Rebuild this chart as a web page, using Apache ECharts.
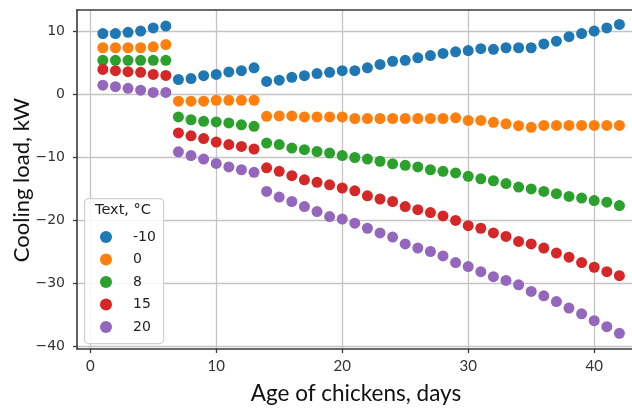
<!DOCTYPE html>
<html><head><meta charset="utf-8">
<script src="https://cdn.jsdelivr.net/npm/echarts@6/dist/echarts.min.js"></script>
<style>html,body{margin:0;padding:0;background:#fff}#c{width:632px;height:408px}</style>
</head><body><div id="c"></div>
<script>
const days = Array.from({length: 42}, (_, i) => i + 1);
const seriesNames = ['-10', '0', '8', '15', '20'];
const xTicks = [0, 10, 20, 30, 40];
const yTicks = [-40, -30, -20, -10, 0, 10];
const tMinus10 = [9.7, 9.7, 9.9, 10.1, 10.6, 10.9,
  2.4, 2.55, 3.0, 3.2, 3.6, 3.8, 4.25,
  2.1, 2.3, 2.75, 3.0, 3.35, 3.55, 3.8, 3.8, 4.25, 4.8, 5.3, 5.45, 5.85, 6.2, 6.55,
  6.8, 7.0, 7.3, 7.2, 7.45, 7.45, 7.45, 8.05, 8.5, 9.2, 9.7, 10.1, 10.6, 11.15];
const t0 = [7.45, 7.45, 7.45, 7.45, 7.6, 7.95,
  -1.05, -1.05, -1.05, -0.9, -0.9, -0.9, -0.9,
  -3.45, -3.4, -3.4, -3.55, -3.55, -3.55, -3.55, -3.8, -3.8, -3.8, -3.8, -3.8, -3.8, -3.8, -3.8,
  -3.7, -4.1, -4.1, -4.4, -4.65, -4.95, -5.2, -4.9, -4.9, -4.9, -4.9, -4.9, -4.9, -4.9];
const t8 = [5.45, 5.45, 5.45, 5.45, 5.45, 5.45,
  -3.55, -4.0, -4.25, -4.35, -4.5, -4.8, -5.05,
  -7.7, -7.95, -8.5, -8.75, -9.05, -9.3, -9.7, -10.0, -10.25, -10.6, -11.0, -11.25, -11.5, -11.95, -12.2,
  -12.45, -13.0, -13.4, -13.7, -14.15, -14.7, -15.0, -15.4, -15.75, -16.2, -16.45, -16.85, -17.1, -17.65];
const t15 = [4.0, 3.8, 3.65, 3.55, 3.2, 3.05,
  -6.1, -6.55, -7.0, -7.55, -7.95, -8.25, -8.65,
  -11.65, -12.2, -12.9, -13.55, -13.95, -14.35, -14.85, -15.3, -16.1, -16.6, -17.0, -17.8, -18.3, -18.75, -19.3,
  -20.0, -20.85, -21.25, -22.0, -22.55, -23.35, -23.75, -24.4, -25.2, -25.85, -26.7, -27.45, -28.15, -28.8];
const t20 = [1.5, 1.25, 1.0, 0.7, 0.35, 0.35,
  -9.1, -9.7, -10.25, -10.95, -11.5, -11.95, -12.35,
  -15.4, -16.3, -17.0, -17.8, -18.6, -19.4, -19.8, -20.45, -21.25, -22.0, -22.65, -23.75, -24.4, -24.95, -25.65,
  -26.7, -27.35, -28.15, -28.95, -29.55, -30.25, -31.3, -32.0, -32.9, -33.95, -34.85, -35.95, -36.9, -37.95];
const allValues = [tMinus10, t0, t8, t15, t20];
const colors = ['#1f77b4', '#ff7f0e', '#2ca02c', '#d62728', '#9467bd'];

const chart = echarts.init(document.getElementById('c'), null, {renderer: 'canvas'});
const series = seriesNames.map((n, i) => ({
  name: n, type: 'scatter', symbol: 'circle', symbolSize: 11,
  itemStyle: {color: colors[i], opacity: 1},
  data: days.map((d, j) => [d, allValues[i][j]]),
  z: 2
}));
const spine = {color: '#3a3a3a', width: 1.6};
chart.setOption({
  animation: false,
  grid: {left: 77, right: 0, top: 10, bottom: 59},
  xAxis: [{
    type: 'value', min: -1.05, max: 43.0,
    axisLine: {show: true, onZero: false, lineStyle: spine},
    axisTick: {show: true, length: 4, lineStyle: {color: '#3a3a3a', width: 1.3}, customValues: xTicks},
    axisLabel: {customValues: xTicks, margin: 10, fontFamily: 'Lato', fontSize: 15, color: '#333'},
    splitLine: {show: true, lineStyle: {color: '#c4c4c4', width: 1.3}}
  }, {
    type: 'value', position: 'top', min: -1.05, max: 43.0,
    axisLine: {show: true, onZero: false, lineStyle: spine},
    axisTick: {show: false}, axisLabel: {show: false}, splitLine: {show: false}
  }],
  yAxis: {
    type: 'value', min: -40.45, max: 13.45,
    axisLine: {show: true, onZero: false, lineStyle: spine},
    axisTick: {show: true, length: 4, lineStyle: {color: '#3a3a3a', width: 1.3}, customValues: yTicks},
    axisLabel: {customValues: yTicks, margin: 12, fontFamily: 'DejaVu Sans', fontSize: 14, color: '#333',
      formatter: v => (v < 0 ? '\u2212' + Math.abs(v) : '' + v)},
    splitLine: {show: true, lineStyle: {color: '#c4c4c4', width: 1.3}}
  },
  legend: {
    data: seriesNames, orient: 'vertical', left: 95, top: 225, itemGap: 8.5,
    icon: 'circle', itemWidth: 12, itemHeight: 12,
    textStyle: {fontFamily: 'DejaVu Sans', fontSize: 14, color: '#222', padding: [0, 0, 0, 16]},
    z: 5
  },
  graphic: [
    {type: 'rect', left: 84, top: 198, z: 4, shape: {width: 79, height: 145, r: 4},
     style: {fill: 'rgba(255,255,255,0.85)', stroke: '#d0d0d0', lineWidth: 1.2}},
    {type: 'text', left: 95, top: 203, z: 5,
     style: {text: 'Text, \u00b0C', fontFamily: 'DejaVu Sans', fontSize: 14.5, fill: '#222'}},
    {type: 'text', x: 22, y: 180, rotation: Math.PI / 2, z: 5,
     style: {text: 'Cooling load, kW', fontFamily: 'Lato', fontSize: 22, fill: '#111', align: 'center', verticalAlign: 'middle'}},
    {type: 'text', x: 356, y: 394, z: 5,
     style: {text: 'Age of chickens, days', fontFamily: 'Lato', fontSize: 22.5, fill: '#111', align: 'center', verticalAlign: 'middle'}}
  ],
  series: series
});
</script></body></html>
